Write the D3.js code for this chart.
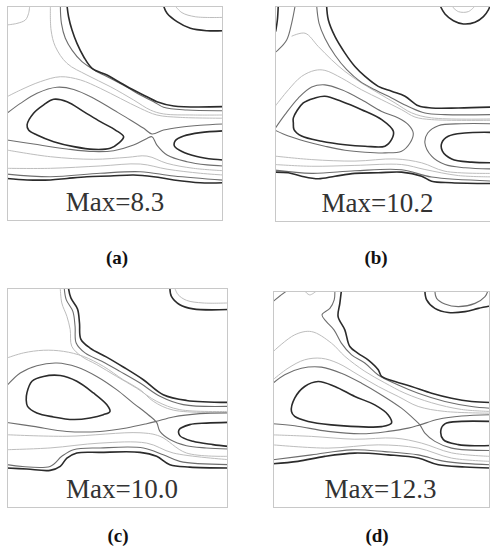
<!DOCTYPE html>
<html>
<head>
<meta charset="utf-8">
<script src="https://cdn.jsdelivr.net/npm/d3@7"></script>
<style>
  body { margin: 0; background: #fff; }
  svg { display: block; }
  .serif { font-family: 'Liberation Serif', 'Times New Roman', Times, 'DejaVu Serif', serif; }
</style>
</head>
<body>
<svg id="chart" width="490" height="551"></svg>
<script>
// panel captions and the max value printed in each panel
const panelLabels = ['(a)', '(b)', '(c)', '(d)'];
const maxValues = [8.3, 10.2, 10.0, 12.3];

// contour lines per panel, in grid units (0..100 across, 0..100 down)
// lv: dark / mid / faint contour level
const contoursA = [
  {lv: 'faint', pts: [[0,8.8],[4.6,8.1],[8.5,6.5],[10,3.4],[10.5,0]]},
  {lv: 'faint', pts: [[20.1,0],[20.4,11.2],[22.4,18.9],[27.8,26.7],[37,32.1],[47.8,37.5],[58.6,43.7],[66.4,48.4],[72.5,50.2],[86.4,50.7],[100,50.7]]},
  {lv: 'mid', pts: [[24.7,0],[25.2,8.1],[27,15],[30.1,20.5],[34.7,25.9],[40.9,30.1],[47.8,33.6],[55.6,37.8],[61.7,41.4],[67.9,44.5],[72.5,47.1],[83.3,48.4],[100,48.7]]},
  {lv: 'dark', pts: [[27.8,0],[28.5,5],[30.1,11.2],[32.4,17.4],[35.5,23.6],[39.4,29],[46.3,32.1],[51.7,35.2],[58.6,39.1],[64.8,42.2],[69.4,44.5],[77.2,46.5],[100,46.8]]},
  {lv: 'dark', pts: [[72.5,0],[74.1,3.4],[78.7,7.3],[84.9,10.4],[92.6,11.5],[100,11.5]]},
  {lv: 'faint', pts: [[77.9,0],[81,3.1],[87.2,5],[100,5.3]]},
  {lv: 'faint', pts: [[0,42.2],[6.2,39.1],[15.4,35.2],[24.7,32.9],[34,34.4],[43.2,38.3],[52.5,43],[61.7,47.6],[69.4,50.7],[80.2,51.8],[100,52.2]]},
  {lv: 'mid', pts: [[0,49.9],[6.2,45.3],[13.9,40.6],[23.1,37.8],[30.9,38.8],[40.1,42.9],[49.4,48.4],[57.1,53],[63.3,56.9],[67.1,59.5],[72.5,57.7],[80.2,56.4],[89.5,55.5],[100,54.9]]},
  {lv: 'mid', pts: [[0,62.3],[12.3,64.2],[27.8,66.5],[40.1,67.7],[49.4,67.3],[58.6,64.7],[64.8,61.6],[67.1,60.8],[69.4,64.7],[74.1,69.3],[83.3,72.4],[92.6,73.9],[100,74.4]]},
  {lv: 'dark', closed: true, pts: [[9.3,55.3],[12.3,49.9],[17,46],[21.6,43.4],[27.8,44.5],[35.5,49.1],[43.2,53.8],[50.2,57.7],[54,60.8],[51.7,63.8],[47.8,66.2],[40.1,66.7],[30.9,65.4],[21.6,63.1],[13.9,60],[10,57.7]]},
  {lv: 'dark', pts: [[100,58.1],[89.5,58.9],[81.8,60.5],[77.9,62.7],[77.5,65.1],[81,67.7],[87.9,70],[95.7,71.3],[100,71.6]]},
  {lv: 'faint', pts: [[0,67],[20.1,70.1],[40.1,71.3],[55.6,70.4],[64.8,69.8],[74.1,73.2],[86.4,75.5],[100,76.6]]},
  {lv: 'faint', pts: [[0,75.5],[20.1,75.5],[43.2,74.4],[61.7,73.5],[74.1,75.9],[89.5,77.8],[100,78.6]]},
  {lv: 'mid', pts: [[0,78.2],[20.1,79.4],[43.2,77.8],[61.7,77.1],[77.2,79.1],[100,81]]},
  {lv: 'dark', pts: [[0,80.2],[9.3,80.9],[20.1,80.9],[27.8,80.2],[37,79.4],[47.8,79.1],[58.6,78.6],[67.9,79.4],[77.2,80.9],[89.5,82.2],[100,82.2]]}
];

const contoursB = [
  {lv: 'dark', pts: [[1.5,0],[1.1,6.5],[0.3,11.8]]},
  {lv: 'mid', pts: [[9.3,0],[7.7,8],[5.4,15.7],[1.5,20.3],[0,21.5]]},
  {lv: 'faint', pts: [[7.7,14],[13.9,12.6],[20.1,18.8],[26.2,24.9],[32.4,30.3],[40.1,35.7],[47.8,40.3],[55.6,44.9],[63.3,49.5],[72.5,51.8],[100,52.3]]},
  {lv: 'mid', pts: [[19.3,0],[20.4,8],[23.1,14.9],[27.8,22.8],[33.2,29.5],[39.4,34.9],[46.3,38.8],[54,42.6],[61.7,46.5],[69.4,49.5],[78.7,50.3],[100,50.3]]},
  {lv: 'dark', pts: [[23.9,0],[24.7,6.5],[27.8,14.2],[32.4,21.8],[37,28],[41.7,32.6],[47.8,37.2],[54,39.5],[60.2,41.8],[66.4,46.2],[72.5,47.2],[84.9,47.2],[100,46.8]]},
  {lv: 'dark', pts: [[76.5,0],[78.7,3.7],[82.6,6.8],[87.2,8.3],[92.6,7.5],[96.5,4.9],[98.8,1.8],[99.5,0]]},
  {lv: 'faint', pts: [[81.8,0],[84.9,2.6],[89.5,2.6],[92.6,0]]},
  {lv: 'faint', pts: [[0,46.5],[6.2,38.8],[12.3,32.6],[18.5,29.8],[23.1,29.8],[30.9,33.4],[40.1,38.8],[49.4,43.4],[58.6,48],[64.8,51.4],[72.5,52.6],[100,52.9]]},
  {lv: 'mid', pts: [[0,56.8],[4.6,50.3],[10.8,42.6],[17,37.5],[23.1,36.5],[30.9,38.8],[40.1,43.4],[49.4,48.8],[57.1,51.8],[61.7,54.9],[64,58.8],[62.5,63.4],[58.6,67.2],[50.9,68],[41.7,67.7],[32.4,66.8],[23.1,64.9],[13.9,62.6],[6.2,60.2],[0,57.5]]},
  {lv: 'dark', closed: true, pts: [[8.5,51.8],[13.1,44.9],[18.5,42.6],[23.1,41.8],[30.9,44.2],[40.1,48],[49.4,52.6],[54.8,58],[54,61.8],[50.9,64.9],[41.7,64.9],[32.4,64.2],[21.6,62.6],[12.3,60.2],[8.8,57.2],[8.5,54.2]]},
  {lv: 'mid', pts: [[100,54.5],[86.4,54.5],[75.6,55.4],[70.7,58.8],[69.4,63.4],[72.5,69.5],[78.7,73.4],[88,74.9],[100,75.4]]},
  {lv: 'dark', pts: [[100,58.5],[87.9,58.8],[80.2,60.3],[77.2,63.4],[77.5,67.2],[81.8,70.8],[91,72.3],[100,72.6]]},
  {lv: 'faint', pts: [[0,69.5],[17,71.1],[37,71.8],[55.6,70.8],[67.9,72.6],[78.7,76.5],[100,77.5]]},
  {lv: 'faint', pts: [[0,73.4],[17,74.2],[37,73.8],[58.6,73.4],[69.4,75.7],[84.9,78.5],[100,79.1]]},
  {lv: 'mid', pts: [[0,76],[17,77.5],[37,76.3],[58.6,75.8],[72.5,79.2],[100,81]]},
  {lv: 'dark', pts: [[0,76.9],[6.2,77.2],[12.3,78.8],[20.1,80],[27.8,78.8],[37,77.5],[47.8,77.2],[58.6,76.9],[67.9,78.8],[72.5,81.1],[81.8,81.8],[100,82.2]]}
];

const contoursC = [
  {lv: 'faint', pts: [[24.1,0],[24.8,6.8],[27.1,12.9],[28.6,18.9],[29.3,26.5],[33.8,31.1],[40.6,34.8],[49.6,40.2],[58.6,45.5],[67.7,51.5],[78.2,55.3],[100,56.1]]},
  {lv: 'mid', pts: [[25.9,0],[26.8,5.3],[29.8,10.6],[30.8,17.4],[31.3,25],[35.3,29.5],[42.9,33.3],[51.1,37.9],[60.2,43.2],[69.2,49.2],[79.7,53],[100,53.8]]},
  {lv: 'dark', pts: [[27.8,0],[28.9,4.5],[31.9,9.5],[32.8,15.9],[33.4,23.2],[37.6,27.3],[45.1,31.4],[52.6,35.9],[61.7,41.7],[70.7,48.5],[81.2,51.1],[100,52]]},
  {lv: 'dark', pts: [[73.7,0],[74.4,3.8],[78.2,7.6],[84.2,9.5],[100,9.8]]},
  {lv: 'faint', pts: [[75.9,0],[77.4,3],[81.2,5.6],[88.7,6.8],[100,6.8]]},
  {lv: 'faint', pts: [[0,31.8],[7.5,29.5],[16.5,28.3],[25.6,28.8],[34.6,31.1],[43.6,35.6],[52.6,41.7],[60.2,46.2],[66.2,51.5],[75.2,55.5],[100,56.6]]},
  {lv: 'mid', pts: [[0,44.3],[6,38.6],[13.5,35.3],[22.6,34.1],[31.6,35.9],[40.6,40.2],[49.6,46.2],[57.1,52.3],[63.9,57.6],[67.7,61.1],[69.2,65.2],[73.7,68.9],[81.2,71.7],[90.2,72.7],[100,73.2]]},
  {lv: 'mid', pts: [[0,61.1],[12,62.9],[27.1,65.2],[42.1,65.2],[54.1,63.6],[63.2,61.7],[67.7,60.6],[75.2,58.6],[87.2,57.1],[100,56.8]]},
  {lv: 'dark', closed: true, pts: [[9,47.7],[11.3,42.4],[16.5,40.2],[24.1,39.8],[31.6,42.4],[39.1,47.7],[45.1,53],[46.6,56.1],[43.6,57.6],[37.6,59.1],[30.1,59.8],[21,58.6],[13.5,56.8],[9.3,53.8],[8.7,50.8]]},
  {lv: 'dark', pts: [[100,61.1],[90.2,61.4],[82.7,62.1],[77.9,64.4],[78.2,67.1],[84.2,69.7],[93.2,71.2],[100,72]]},
  {lv: 'faint', pts: [[0,66.7],[27.1,67.4],[60.2,65.8],[69.2,67.4],[81.2,75],[100,76.5]]},
  {lv: 'faint', pts: [[0,73.5],[19.5,72.7],[42.1,70.5],[63.2,70.5],[75.2,75],[100,78]]},
  {lv: 'mid', pts: [[0,80.3],[19.5,81.1],[24.8,76.5],[30.1,73.5],[42.1,72.7],[61.7,72.7],[70.7,75.8],[78.2,78.8],[100,80.3]]},
  {lv: 'dark', pts: [[0,81.8],[9,82.3],[19.5,82.9],[24.1,81.1],[27.1,77.3],[31.6,75],[42.1,74.7],[60.2,74.7],[67.7,76.5],[73.7,80.3],[82.7,81.4],[100,81.8]]}
];

const contoursD = [
  {lv: 'mid', pts: [[0,4.9],[3.8,1.8],[6.2,0]]},
  {lv: 'faint', pts: [[14.6,0],[16.9,1.8],[20,0]]},
  {lv: 'faint', pts: [[0,28],[10,20.2],[17.7,18.7],[26.9,24],[33.1,30.1],[42.3,37],[51.5,42.3],[60.8,47.1],[73.1,51.5],[86.9,54.6],[100,55.5]]},
  {lv: 'mid', pts: [[28.5,0],[28.2,4.1],[26.2,8],[22.6,11],[24.6,14.1],[28.1,17.9],[31.5,24],[36.2,29.4],[42.3,33.2],[48.5,38.7],[57.7,43.3],[66.9,47.1],[79.2,50.9],[91.5,53.2],[100,54]]},
  {lv: 'dark', pts: [[31.5,0],[30.8,5.7],[30,11.8],[33.1,17.9],[35.4,25.6],[39.2,28.7],[43.8,31.7],[48.5,36.3],[50,39.3],[56.2,41.7],[63.8,44],[73.1,47.1],[82.3,49.4],[91.5,50.9],[100,51.4]]},
  {lv: 'dark', pts: [[70,0],[70.8,4.1],[74.6,8],[80.8,9.9],[88.5,9.5],[94.6,8],[100,6.9]]},
  {lv: 'mid', pts: [[74.6,0],[75.4,3.4],[79.2,6],[85.4,7.2],[93.1,5.7],[97.7,2.6],[99,0]]},
  {lv: 'faint', pts: [[0,40.9],[6.9,35.6],[14.6,31.7],[22.3,31],[30,33.3],[39.2,38.6],[48.5,44],[57.7,48.6],[66.9,53.2],[79.2,55.5],[100,56.3]]},
  {lv: 'mid', pts: [[0,42.5],[5.4,38.6],[13.1,35.6],[22.3,35.1],[31.5,37.9],[40.8,42.5],[50,47.9],[59.2,54],[65.4,59.4],[67.7,61.7],[70,65.5],[74.6,69.3],[82.3,72.4],[100,73.5]]},
  {lv: 'mid', pts: [[0,61.2],[10,62.1],[25.4,64.7],[40.8,65.8],[53.1,64.7],[62.3,63.2],[67.7,61.7],[76.2,59.1],[86.9,57.6],[100,57]]},
  {lv: 'dark', closed: true, pts: [[8.5,55.5],[10,49.4],[14.6,44],[20.8,41.7],[28.5,44],[37.7,48.6],[46.9,52.5],[53.1,57.1],[54.6,60.9],[50,62.5],[39.2,62.5],[26.9,61.7],[16.2,60.1],[10,57.8]]},
  {lv: 'dark', pts: [[100,60.1],[86.9,60.1],[79.2,61.2],[77.4,63.9],[78.5,68.5],[85.4,70.8],[94.6,71.3],[100,71.2]]},
  {lv: 'faint', pts: [[0,66.3],[17.7,67],[37.7,68.3],[56.2,67.8],[68.5,70.1],[82.3,74.6],[100,76.2]]},
  {lv: 'faint', pts: [[0,70.9],[25.4,72.4],[48.5,70.9],[66.9,72.4],[82.3,77],[100,78.5]]},
  {lv: 'mid', pts: [[0,77.8],[17.7,75.5],[36.2,73.2],[51.5,74],[66.9,75.5],[79.2,78.5],[100,80.1]]},
  {lv: 'dark', pts: [[0,79.6],[11.5,78.5],[23.8,76.2],[37.7,74.7],[53.1,75.5],[66.9,77],[76.2,80.1],[88.5,81.1],[100,81.6]]}
];

const panelContours = [contoursA, contoursB, contoursC, contoursD];

// frame of each panel on the page (px)
const frames = [
  {x: 7,   y: 6,   w: 216, h: 215, tx: 0.50, lx: 117, ly: 264},
  {x: 275, y: 6,   w: 216, h: 216, tx: 0.475, lx: 376, ly: 264},
  {x: 7,   y: 288, w: 221, h: 220, tx: 0.52, lx: 118, ly: 542},
  {x: 273, y: 291, w: 217, h: 217, tx: 0.495, lx: 377, ly: 542}
];

const levelStyle = {
  dark:  {stroke: '#2b2b2b', width: 1.6},
  mid:   {stroke: '#6e6e6e', width: 1.1},
  faint: {stroke: '#bdbdbd', width: 1}
};

const svg = d3.select('#chart');

frames.forEach((f, i) => {
  const x = d3.scaleLinear().domain([0, 100]).range([0, f.w]);
  const y = d3.scaleLinear().domain([0, 100]).range([0, f.h]);
  const openLine = d3.line().x(d => x(d[0])).y(d => y(d[1])).curve(d3.curveCatmullRom.alpha(0.5));
  const closedLine = d3.line().x(d => x(d[0])).y(d => y(d[1])).curve(d3.curveCatmullRomClosed.alpha(0.5));

  svg.append('clipPath').attr('id', 'clip' + i)
    .append('rect').attr('width', f.w).attr('height', f.h);

  const g = svg.append('g').attr('transform', 'translate(' + f.x + ',' + f.y + ')');

  g.append('g').attr('clip-path', 'url(#clip' + i + ')')
    .selectAll('path')
    .data(panelContours[i])
    .join('path')
      .attr('d', c => c.closed ? closedLine(c.pts) : openLine(c.pts))
      .attr('fill', 'none')
      .attr('stroke', c => levelStyle[c.lv].stroke)
      .attr('stroke-width', c => levelStyle[c.lv].width)
      .attr('stroke-linejoin', 'round');

  g.append('rect')
    .attr('x', 0.5).attr('y', 0.5)
    .attr('width', f.w - 1).attr('height', f.h - 1)
    .attr('fill', 'none')
    .attr('stroke', '#c8c8c8')
    .attr('stroke-width', 1);

  g.append('text')
    .attr('class', 'serif')
    .attr('x', f.w * f.tx)
    .attr('y', f.h * 0.955)
    .attr('text-anchor', 'middle')
    .attr('font-size', 27)
    .attr('fill', '#333')
    .text('Max=' + maxValues[i].toFixed(1));

  svg.append('text')
    .attr('class', 'serif')
    .attr('x', f.lx).attr('y', f.ly)
    .attr('text-anchor', 'middle')
    .attr('font-weight', 'bold')
    .attr('font-size', 19)
    .attr('fill', '#111')
    .text(panelLabels[i]);
});
</script>
</body>
</html>
